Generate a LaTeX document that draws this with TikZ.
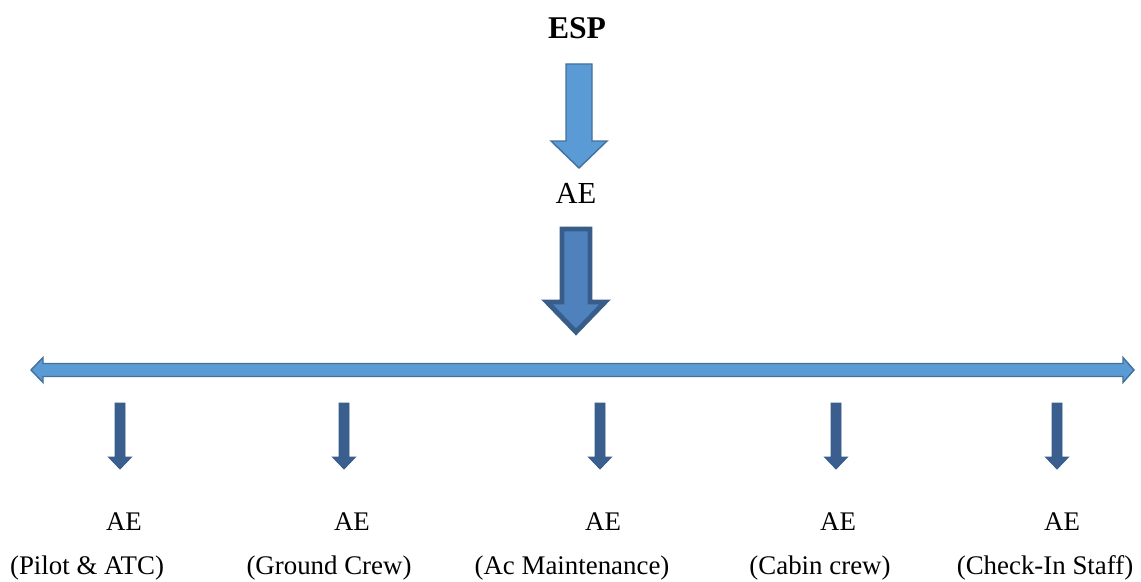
\documentclass[tikz,border=0pt]{standalone}
\usepackage{fontspec}
\setmainfont{Liberation Serif}
\usetikzlibrary{calc}
\definecolor{lightblue}{HTML}{5B9BD5}
\definecolor{lightedge}{HTML}{41719C}
\definecolor{midblue}{HTML}{4F81BD}
\definecolor{darkedge}{HTML}{385D8A}
\definecolor{smallblue}{HTML}{3A5F8F}
\tikzset{
	light/.style={fill=lightblue, draw=lightedge, line width=0.8pt, line join=miter},
	heavy/.style={fill=midblue, draw=darkedge, line width=2.8pt, line join=miter},
	small/.style={fill=smallblue, draw=darkedge, line width=0.5pt, line join=miter},
	lbl/.style={font=\fontsize{15.3}{17}\selectfont, inner sep=0pt}
}
% block arrow pointing down: x, top, tip, shaft half, head half, head length, style
\newcommand{\blockdown}[7]{%
	\draw[#7] (#1-#4,#2) -- (#1+#4,#2) -- (#1+#4,#3-#6) -- (#1+#5,#3-#6)
		-- (#1,#3) -- (#1-#5,#3-#6) -- (#1-#4,#3-#6) -- cycle;}

\begin{document}
\begin{tikzpicture}[x=0.02cm, y=-0.02cm]
		\useasboundingbox (0,0) rectangle (1141,581);

		\node[font=\fontsize{18}{20}\selectfont\bfseries, inner sep=0pt] (esp) at (577,28) {ESP};
		\node[font=\fontsize{17.4}{19}\selectfont, inner sep=0pt] (ae) at (576,193) {AE};

		\blockdown{579}{64}{168}{13}{28}{27}{light}
		\blockdown{576}{229}{332}{14}{29}{30}{heavy}

		% the long line
		\draw[light] (31,370) -- (43,357.5) -- (43,363.5) -- (1123,363.5) -- (1123,357.5)
			-- (1134,370) -- (1123,382.5) -- (1123,376.5) -- (43,376.5) -- (43,382.5) -- cycle;

		\foreach \x/\ax/\lx/\name/\txt in {120/124/87/pilot/(Pilot \& ATC),
				344/352/329/ground/(Ground Crew),
				600/603/572/maint/(Ac Maintenance),
				836/838/820/cabin/(Cabin crew),
				1057/1062/1045/checkin/(Check-In Staff)}{
				\blockdown{\x}{403}{469}{5}{11.5}{12}{small}
				\node[lbl] (ae-\name) at (\ax,522) {AE};
				\node[lbl] (\name) at (\lx,568) {\txt};
			}
	\end{tikzpicture}
\end{document}
